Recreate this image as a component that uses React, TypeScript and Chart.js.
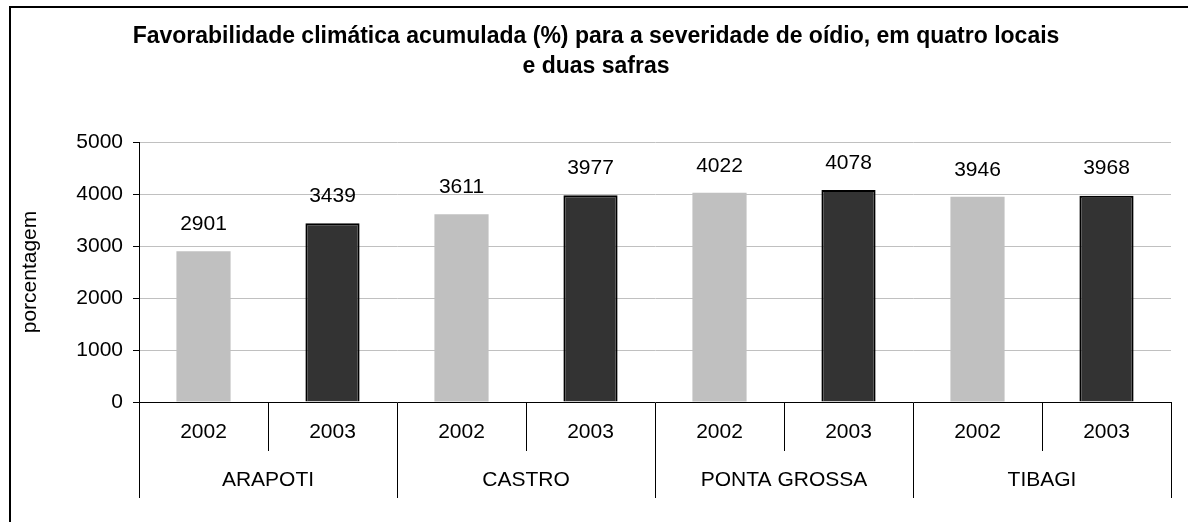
import React, { useEffect, useRef } from "react";
import { Chart, registerables } from "chart.js";

Chart.register(...registerables);

const TITLE_LINES = [
  "Favorabilidade climática acumulada (%) para a severidade de oídio, em quatro locais",
  "e duas safras",
];
const Y_TITLE = "porcentagem";
const LOCATIONS = ["ARAPOTI", "CASTRO", "PONTA GROSSA", "TIBAGI"];
const YEARS = ["2002", "2003"];
const VALUES = [2901, 3439, 3611, 3977, 4022, 4078, 3946, 3968];
const Y_TICKS = [0, 1000, 2000, 3000, 4000, 5000];
const YEAR_COLORS = ["#C0C0C0", "#333333"];
const YEAR_BORDERS = ["#C0C0C0", "#000000"];
const YEAR_BORDER_WIDTHS = [0, 2];

const FONT = "'Liberation Sans', Arial, Helvetica, sans-serif";
const TEXT_SIZE = 21;

const valueLabels = {
  id: "valueLabels",
  afterDatasetsDraw(chart: any) {
    const ctx = chart.ctx;
    ctx.save();
    ctx.font = `${TEXT_SIZE}px ${FONT}`;
    ctx.fillStyle = "#000";
    ctx.textAlign = "center";
    ctx.textBaseline = "middle";
    chart.data.datasets.forEach((ds: any, di: number) => {
      const meta = chart.getDatasetMeta(di);
      meta.data.forEach((el: any, i: number) => {
        ctx.fillText(String(ds.data[i]), el.x, el.y - 27);
      });
    });
    ctx.restore();
  },
};

export default function App() {
  const canvasRef = useRef<HTMLCanvasElement | null>(null);

  useEffect(() => {
    if (!canvasRef.current) return;
    const categoryLabels = LOCATIONS.flatMap(() => YEARS);
    const chart = new Chart(canvasRef.current, {
      type: "bar",
      data: {
        labels: categoryLabels,
        datasets: [
          {
            data: VALUES,
            backgroundColor: VALUES.map((_, i) => YEAR_COLORS[i % YEARS.length]),
            borderColor: VALUES.map((_, i) => YEAR_BORDERS[i % YEARS.length]),
            borderWidth: VALUES.map((_, i) => YEAR_BORDER_WIDTHS[i % YEARS.length]),
            barPercentage: 0.42,
            categoryPercentage: 1,
          },
        ],
      },
      options: {
        animation: false,
        responsive: false,
        maintainAspectRatio: false,
        layout: { padding: { left: 14, right: 10, top: 0, bottom: 24 } },
        plugins: {
          legend: { display: false },
          tooltip: { enabled: false },
          title: {
            display: true,
            text: TITLE_LINES,
            color: "#000",
            font: { family: FONT, size: 23, weight: "bold", lineHeight: 30 / 23 },
            padding: { top: 22, bottom: 60 },
          },
        },
        scales: {
          x: {
            type: "category",
            position: "bottom",
            offset: true,
            grid: {
              offset: true,
              drawOnChartArea: false,
              drawTicks: true,
              tickLength: 49,
              color: "#000",
              tickColor: "#000",
            },
            border: { display: true, color: "#000", width: 1 },
            ticks: {
              color: "#000",
              font: { family: FONT, size: TEXT_SIZE },
              padding: -31,
              maxRotation: 0,
              autoSkip: false,
            },
            afterFit(scale: any) {
              scale.height = 49;
            },
          },
          x2: {
            type: "category",
            position: "bottom",
            labels: LOCATIONS,
            offset: true,
            weight: 1,
            grid: {
              offset: true,
              drawOnChartArea: false,
              drawTicks: true,
              tickLength: 47,
              color: "#000",
              tickColor: "#000",
            },
            border: { display: false },
            ticks: {
              color: "#000",
              font: { family: FONT, size: TEXT_SIZE },
              padding: -30,
              maxRotation: 0,
              autoSkip: false,
            },
            afterFit(scale: any) {
              scale.height = 47;
            },
          },
          y: {
            type: "linear",
            min: 0,
            max: 5000,
            afterBuildTicks(scale: any) {
              scale.ticks = Y_TICKS.map((v) => ({ value: v }));
            },
            grid: {
              color: (c: any) => (c.tick && c.tick.value === 0 ? "rgba(0,0,0,0)" : "#C0C0C0"),
              tickColor: "#000",
              tickLength: 6,
              lineWidth: 1,
            },
            border: { display: true, color: "#000", width: 1 },
            ticks: {
              color: "#000",
              font: { family: FONT, size: TEXT_SIZE },
              padding: 10,
              callback: (v: any) => String(v),
            },
            title: {
              display: true,
              text: Y_TITLE,
              color: "#000",
              font: { family: FONT, size: TEXT_SIZE },
              padding: { top: 4, bottom: 4 },
            },
            afterFit(scale: any) {
              scale.width = 125;
            },
          },
          spacer: {
            type: "linear",
            position: "right",
            display: true,
            grid: { display: false, drawTicks: false },
            border: { display: false },
            ticks: { display: false },
            afterFit(scale: any) {
              scale.width = 7;
            },
          },
        },
      },
      plugins: [valueLabels],
    });
    return () => chart.destroy();
  }, []);

  return (
    <div style={{ position: "fixed", left: 0, top: 0, width: 1188, height: 522, overflow: "hidden", background: "#fff" }}>
      <canvas ref={canvasRef} width={1188} height={522} style={{ position: "absolute", left: 0, top: 0 }} />
      <div
        style={{
          position: "absolute",
          left: 9,
          top: 6,
          width: 1400,
          height: 700,
          borderTop: "2px solid #000",
          borderLeft: "2px solid #000",
          pointerEvents: "none",
        }}
      />
    </div>
  );
}
